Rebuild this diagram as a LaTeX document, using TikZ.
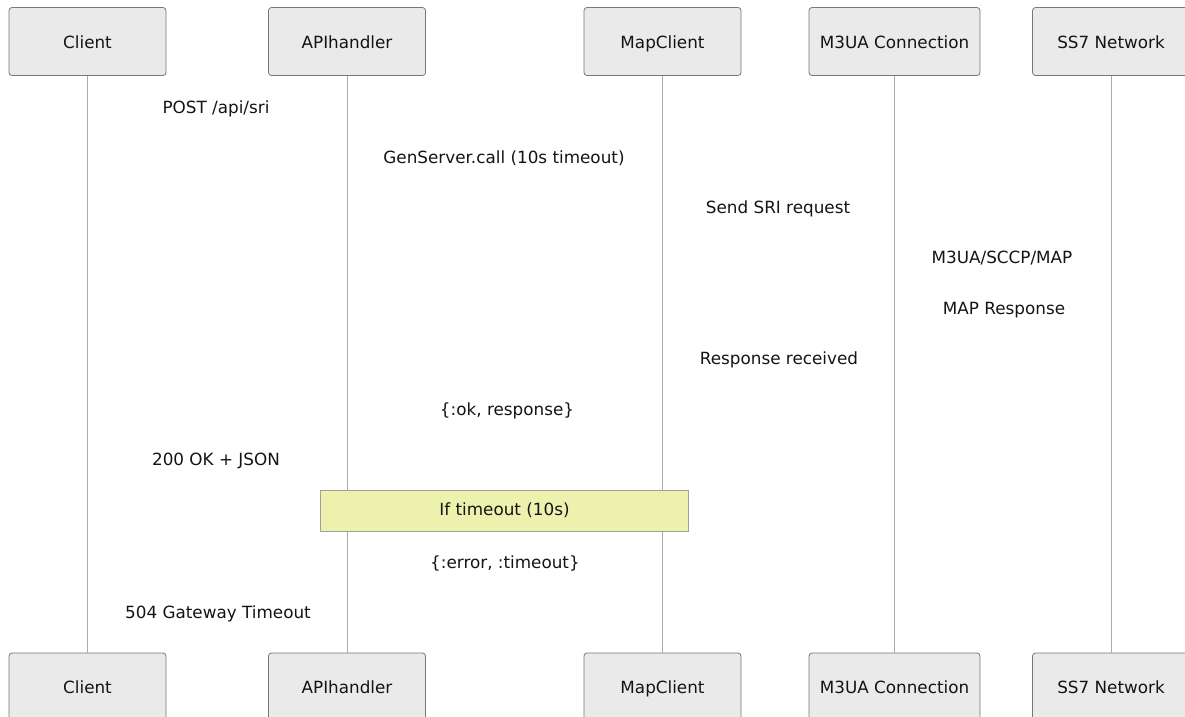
\documentclass[tikz,border=0pt]{standalone}
\usepackage{fontspec}
\setmainfont{DejaVu Sans}
\definecolor{actfill}{RGB}{234,234,234}
\definecolor{actline}{RGB}{120,120,120}
\definecolor{lifeline}{RGB}{170,170,170}
\definecolor{notefill}{RGB}{236,242,174}
\definecolor{noteline}{RGB}{160,160,160}
\definecolor{txt}{RGB}{20,20,20}
\begin{document}
\begin{tikzpicture}[x=1pt,y=-1pt,
  actor/.style={draw=actline,fill=actfill,rounded corners=3pt,line width=0.8pt,minimum height=68pt,inner sep=0pt,text height=13.5pt,text depth=0.5pt,font=\fontsize{16.8}{20}\selectfont,text=txt},
  msg/.style={font=\fontsize{16.8}{20}\selectfont,text=txt,inner sep=0pt,text height=12.5pt,text depth=3.5pt,anchor=center},
  life/.style={draw=lifeline,line width=0.9pt},
  note/.style={draw=noteline,fill=notefill,line width=0.8pt,minimum width=368pt,minimum height=41pt,inner sep=0pt,text height=12.5pt,text depth=2.5pt,font=\fontsize{16.8}{20}\selectfont,text=txt}]
\useasboundingbox (0,0) rectangle (1185,716);
\clip (0,0) rectangle (1185,716);
% top actors
\node[actor,minimum width=157pt] (c1) at (87.5,41.5) {Client};
\node[actor,minimum width=157pt] (a1) at (347,41.5) {APIhandler};
\node[actor,minimum width=157pt] (m1) at (662.5,41.5) {MapClient};
\node[actor,minimum width=171pt] (u1) at (894.5,41.5) {M3UA Connection};
\node[actor,minimum width=157pt] (s1) at (1111,41.5) {SS7 Network};
% bottom actors
\node[actor,minimum width=157pt] (c2) at (87.5,687) {Client};
\node[actor,minimum width=157pt] (a2) at (347,687) {APIhandler};
\node[actor,minimum width=157pt] (m2) at (662.5,687) {MapClient};
\node[actor,minimum width=171pt] (u2) at (894.5,687) {M3UA Connection};
\node[actor,minimum width=157pt] (s2) at (1111,687) {SS7 Network};
% lifelines
\draw[life] (c1.south) -- (c2.north);
\draw[life] (a1.south) -- (a2.north);
\draw[life] (m1.south) -- (m2.north);
\draw[life] (u1.south) -- (u2.north);
\draw[life] (s1.south) -- (s2.north);
% note
\node[note] (n1) at (504.5,510.5) {If timeout (10s)};
% message labels
\node[msg] (l1) at (216,109) {POST /api/sri};
\node[msg] (l2) at (504,159) {GenServer.call (10s timeout)};
\node[msg] (l3) at (778,209) {Send SRI request};
\node[msg] (l4) at (1002,259) {M3UA/SCCP/MAP};
\node[msg] (l5) at (1004,310) {MAP Response};
\node[msg] (l6) at (779,360) {Response received};
\node[msg] (l7) at (507,411) {\{:ok, response\}};
\node[msg] (l8) at (216,461) {200 OK + JSON};
\node[msg] (l9) at (505,564) {\{:error, :timeout\}};
\node[msg] (l10) at (218,614) {504 Gateway Timeout};
\end{tikzpicture}
\end{document}
